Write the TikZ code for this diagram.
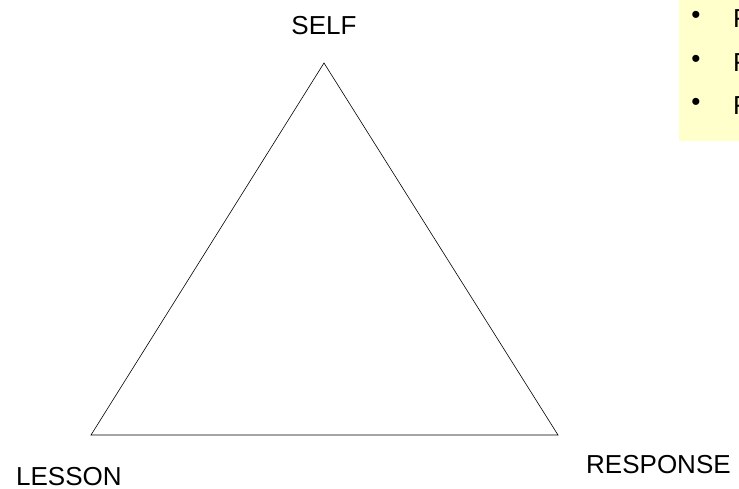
\documentclass[tikz,border=0pt]{standalone}
\usepackage{fontspec}
\setmainfont{Liberation Sans}
\usepackage{xcolor}
\usetikzlibrary{positioning}
\definecolor{noteyellow}{RGB}{255, 255, 204}

\begin{document}
\begin{tikzpicture}[x=1pt, y=-1pt,
    cornerlabel/.style={inner sep=0pt, font=\fontsize{26}{30}\selectfont},
    notebox/.style={fill=noteyellow, draw=none},
    bulletdot/.style={inner sep=0pt, anchor=center, font=\fontsize{26}{30}\selectfont},
    bulletitem/.style={inner sep=0pt, anchor=base west, font=\fontsize{26}{30}\selectfont},
    edge/.style={draw=black, line width=0.6pt, line join=miter}]

    \useasboundingbox (0,0) rectangle (739,488);

    % Note box
    \path[notebox] (679,-2) rectangle (745,141);
    \node[bulletitem] (item_a) at (733,27) {F};
    \node[bulletitem] (item_b) at (733,71) {F};
    \node[bulletitem] (item_c) at (733,114) {F};
    \node[bulletdot] (dot_a) at (696,17) {•};
    \node[bulletdot] (dot_b) at (696,61) {•};
    \node[bulletdot] (dot_c) at (696,104) {•};

    % Corners
    \coordinate (self_pt) at (324,63);
    \coordinate (lesson_pt) at (91,435);
    \coordinate (response_pt) at (558,435);

    \node[cornerlabel, anchor=base] (self) at (324,34) {SELF};
    \node[cornerlabel, anchor=base west] (lesson) at (16,485) {LESSON};
    \node[cornerlabel, anchor=base west] (response) at (586,473) {RESPONSE};

    % Triangle
    \draw[edge] (self_pt) -- (response_pt) -- (lesson_pt) -- cycle;
\end{tikzpicture}
\end{document}
